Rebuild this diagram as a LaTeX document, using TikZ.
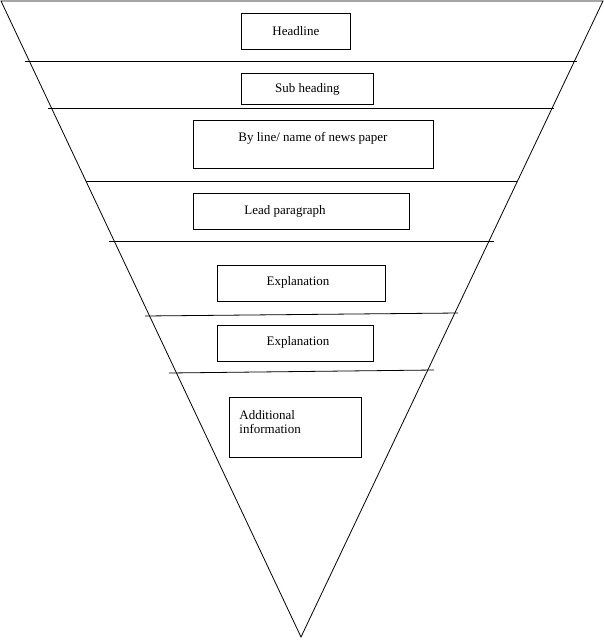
\documentclass[tikz,border=0pt]{standalone}
\usepackage{fontspec}
\setmainfont{Liberation Serif}
\begin{document}
\begin{tikzpicture}[x=1pt,y=-1pt,line width=0.8pt,
  box/.style={draw,rectangle,inner sep=0pt,anchor=north west},
  lbl/.style={font=\fontsize{13}{15}\selectfont,inner sep=0pt}]
\useasboundingbox (0,0) rectangle (604,640);
\draw (1,1) -- (603,1) -- (301,637) -- cycle;
\draw (25,61) -- (577,61);
\draw (48,108) -- (554,108);
\draw (86,181) -- (517,181);
\draw (109,241) -- (494,241);
\draw (145,316) -- (458,313);
\draw (169,373) -- (434,370);
\node[box,minimum width=109pt,minimum height=36pt] (b1) at (241,13) {};
\node[lbl] (t1) at (b1.center) {Headline};
\node[box,minimum width=132pt,minimum height=31pt] (b2) at (241,73) {};
\node[lbl] (t2) at (b2.center) {Sub heading};
\node[box,minimum width=240pt,minimum height=48pt] (b3) at (193,120) {};
\node[lbl] (t3) at (313,138) {By line/ name of news paper};
\node[box,minimum width=216pt,minimum height=36pt] (b4) at (193,193) {};
\node[lbl] (t4) at (285,211) {Lead paragraph};
\node[box,minimum width=168pt,minimum height=36pt] (b5) at (217,265) {};
\node[lbl] (t5) at (298,282) {Explanation};
\node[box,minimum width=156pt,minimum height=36pt] (b6) at (217,325) {};
\node[lbl] (t6) at (298,342) {Explanation};
\node[box,minimum width=132pt,minimum height=60pt] (b7) at (229,397) {};
\node[lbl,anchor=west,align=left] (t7) at (239,422) {Additional\\[-0.5pt]information};
\end{tikzpicture}
\end{document}
